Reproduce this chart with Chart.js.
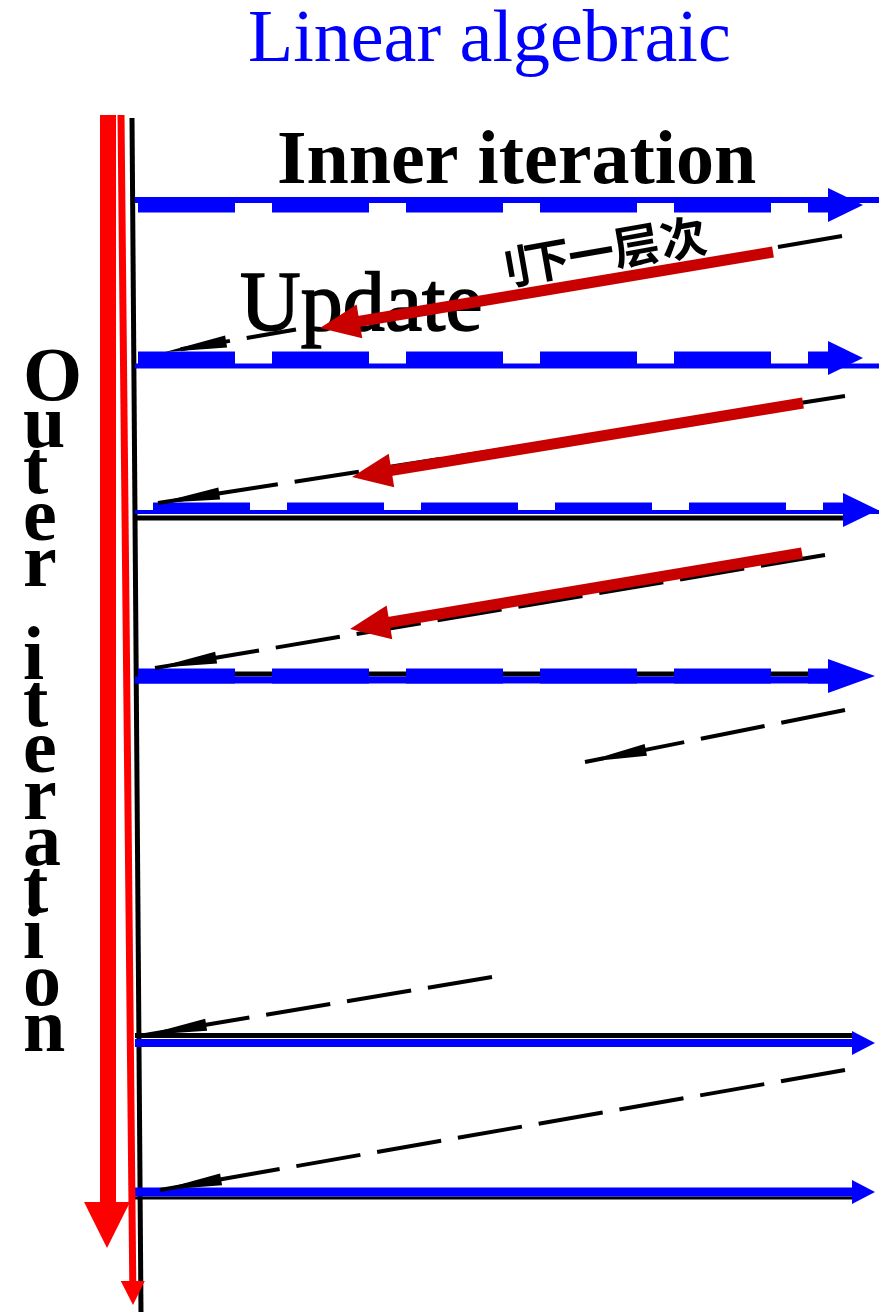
<!DOCTYPE html>
<html><head><meta charset="utf-8">
<script src="https://cdn.jsdelivr.net/npm/chart.js@4"></script>
<style>html,body{margin:0;padding:0;background:#fff;}#wrap{width:879px;height:1312px;position:relative;background:#fff;}</style>
</head><body><div id="wrap"><canvas id="c"></canvas></div>
<script>
// ---------- data ----------
const titleText = "Linear algebraic";
const innerLabel = "Inner iteration";
const updateLabel = "Update";
const outerLabel = "Outer iteration";
const noteChars = ["刂", "下", "一", "层", "次"];
const noteX = [508, 547, 591, 636, 683];
const noteY = [268, 260, 253, 245, 238];

// inner-iteration levels (horizontal arrows)
const levelY      = [205, 358, 510, 676, 1043, 1192];
const levelStartX = [138, 138, 153, 138, 135, 135];
const levelTipX   = [863, 863, 878, 875, 875, 875];

// dashed return lines (right end -> left end)
const returnFromX = [842, 845, 825, 845, 492, 845];
const returnFromY = [236, 396, 555, 710, 977, 1070];
const returnToX   = [165, 158, 155, 585, 145, 160];
const returnToY   = [352, 503, 668, 762, 1035, 1190];
// x-range of a return line hidden behind the "Update" label / arrow
const returnHidden = [[296, 776], null, null, null, null, null];

// red "update" arrows (start -> tip)
const updFromX = [773, 803, 802];
const updFromY = [252, 403, 553];
const updToX   = [320, 352, 350];
const updToY   = [328, 477, 629];

// outer iteration axis
const outerX = [108, 108];
const outerY = [115, 1248];
const outerThinX = [121, 133];
const outerThinY = [115, 1305];
const axisX = [132, 141];
const axisY = [118, 1312];

// ---------- styles ----------
const BLUE = '#0000ff', BLACK = '#000000', RED = '#ff0000', DARKRED = '#c80000';
const levelStyle = [
  {dashed:true, thick:{dy:0, w:15}, thin:{dy:-5, w:6, c:BLUE, x2:879}, head:{len:35, half:17}},
  {dashed:true, thick:{dy:0, w:13}, thin:{dy:8, w:5, c:BLUE, x2:879}, head:{len:35, half:17}},
  {dashed:true, thick:{dy:-2, w:11}, thin:{dy:2, w:4, c:BLUE, x2:879}, under:{dy:8, w:5}, head:{len:35, half:17}},
  {dashed:true, thick:{dy:0, w:15}, thin:{dy:4, w:7, c:BLUE, x2:830}, under:{dy:-2, w:5}, head:{len:47, half:17}},
  {dashed:false, thick:{dy:0, w:8}, under:{dy:-7.5, w:5}, head:{len:23, half:12}},
  {dashed:false, thick:{dy:0, w:9}, under:{dy:6, w:3}, head:{len:23, half:12}}
];

const datasets = [];
function seg(x1, y1, x2, y2, color, width, dash, offset) {
  datasets.push({
    data: [{x:x1, y:y1}, {x:x2, y:y2}],
    borderColor: color, backgroundColor: color, borderWidth: width,
    borderDash: dash || [], borderDashOffset: offset || 0,
    borderCapStyle: 'butt', showLine: true, pointRadius: 0, fill: false,
    tension: 0, order: -datasets.length
  });
}
function back(x1, y1, x2, y2, len) { // point len back from (x2,y2) toward (x1,y1)
  const dx = x1 - x2, dy = y1 - y2, d = Math.hypot(dx, dy);
  return [x2 + dx / d * len, y2 + dy / d * len];
}
function yAt(x1, y1, x2, y2, x) { return y1 + (y2 - y1) * (x - x1) / (x2 - x1); }

// axis line
seg(axisX[0], axisY[0], axisX[1], axisY[1], BLACK, 5);
// levels
levelY.forEach((y, i) => {
  const s = levelStyle[i];
  const base = levelTipX[i] - s.head.len;
  if (s.under) seg(135, y + s.under.dy, base + 2, y + s.under.dy, BLACK, s.under.w);
  if (s.thin) seg(135, y + s.thin.dy, s.thin.x2, y + s.thin.dy, s.thin.c, s.thin.w);
  if (s.dashed) seg(levelStartX[i], y + s.thick.dy, base + 2, y + s.thick.dy, BLUE, s.thick.w, [97, 37]);
  else seg(levelStartX[i], y + s.thick.dy, base + 2, y + s.thick.dy, BLUE, s.thick.w);
});
// dashed return lines
returnFromX.forEach((x, i) => {
  const x1 = x, y1 = returnFromY[i], x2 = returnToX[i], y2 = returnToY[i];
  const h = returnHidden[i];
  if (h) {
    seg(x1, y1, h[1], yAt(x1, y1, x2, y2, h[1]), BLACK, 4, [65, 17]);
    seg(h[0], yAt(x1, y1, x2, y2, h[0]), x2, y2, BLACK, 4, [50, 17]);
  } else {
    seg(x1, y1, x2, y2, BLACK, 4, [65, 17]);
  }
});
// red update arrows
updFromX.forEach((x, i) => {
  const b = back(x, updFromY[i], updToX[i], updToY[i], 36);
  seg(x, updFromY[i], b[0], b[1], DARKRED, 11);
});
// outer iteration arrows
seg(outerThinX[0], outerThinY[0], back(outerThinX[0], outerThinY[0], outerThinX[1], outerThinY[1], 20)[0],
    outerThinY[1] - 20, RED, 7);
seg(outerX[0], outerY[0], outerX[1], outerY[1] - 44, RED, 16);

// ---------- drawing helpers ----------
function P(chart, x, y) { return [chart.scales.x.getPixelForValue(x), chart.scales.y.getPixelForValue(y)]; }
function head(ctx, chart, fx, fy, tx, ty, len, half, color) {
  const t = P(chart, tx, ty), f = P(chart, fx, fy);
  const dx = f[0] - t[0], dy = f[1] - t[1], d = Math.hypot(dx, dy);
  const ux = dx / d, uy = dy / d;
  const bx = t[0] + ux * len, by = t[1] + uy * len;
  ctx.beginPath();
  ctx.moveTo(t[0], t[1]);
  ctx.lineTo(bx - uy * half, by + ux * half);
  ctx.lineTo(bx + uy * half, by - ux * half);
  ctx.closePath();
  ctx.fillStyle = color;
  ctx.fill();
}

const SERIF = '"Liberation Serif","Times New Roman",serif';
const textPlugin = {
  id: 'texts',
  beforeDatasetsDraw(chart) {
    const ctx = chart.ctx;
    ctx.save();
    ctx.textBaseline = 'alphabetic';
    ctx.textAlign = 'left';
    let p = P(chart, 248, 61);
    ctx.fillStyle = BLUE; ctx.font = '74px ' + SERIF;
    ctx.fillText(titleText, p[0], p[1]);
    ctx.fillStyle = BLACK; ctx.strokeStyle = BLACK;
    p = P(chart, 277, 183);
    ctx.font = 'bold 76px ' + SERIF;
    ctx.fillText(innerLabel, p[0], p[1]);
    p = P(chart, 240, 330);
    ctx.font = '84px ' + SERIF;
    ctx.lineWidth = 1.6;
    ctx.fillText(updateLabel, p[0], p[1]);
    ctx.strokeText(updateLabel, p[0], p[1]);
    // vertical stacked label
    ctx.font = 'bold 76px ' + SERIF;
    outerLabel.split('').forEach((ch, k) => {
      const q = P(chart, 23, 400 + 46.5 * k);
      ctx.fillText(ch, q[0], q[1]);
    });
    // Chinese note (rotated)
    ctx.font = 'bold 46px "Noto Sans CJK SC"';
    ctx.textAlign = 'center'; ctx.textBaseline = 'middle';
    noteChars.forEach((ch, k) => {
      const q = P(chart, noteX[k], noteY[k]);
      ctx.save();
      ctx.translate(q[0], q[1]);
      ctx.rotate(-10 * Math.PI / 180);
      ctx.fillText(ch, 0, 0);
      ctx.restore();
    });
    ctx.restore();
  },
  afterDatasetsDraw(chart) {
    const ctx = chart.ctx;
    ctx.save();
    levelY.forEach((y, i) => {
      const s = levelStyle[i];
      head(ctx, chart, 0, y, levelTipX[i], y, s.head.len, s.head.half, BLUE);
    });
    returnFromX.forEach((x, i) => {
      head(ctx, chart, x, returnFromY[i], returnToX[i], returnToY[i], 62, 6, BLACK);
    });
    updFromX.forEach((x, i) => {
      head(ctx, chart, x, updFromY[i], updToX[i], updToY[i], 40, 17, DARKRED);
    });
    head(ctx, chart, outerThinX[0], outerThinY[0], outerThinX[1], outerThinY[1], 24, 12, RED);
    head(ctx, chart, outerX[0], outerY[0], outerX[1] - 1, outerY[1], 46, 23, RED);
    ctx.restore();
  }
};

new Chart(document.getElementById('c'), {
  type: 'scatter',
  data: { datasets },
  options: {
    responsive: true, maintainAspectRatio: false, animation: false, events: [],
    layout: { padding: 0 },
    plugins: { legend: { display: false }, tooltip: { enabled: false } },
    scales: {
      x: { type: 'linear', min: 0, max: 879, display: false },
      y: { type: 'linear', min: 0, max: 1312, reverse: true, display: false }
    }
  },
  plugins: [textPlugin]
});
</script></body></html>
